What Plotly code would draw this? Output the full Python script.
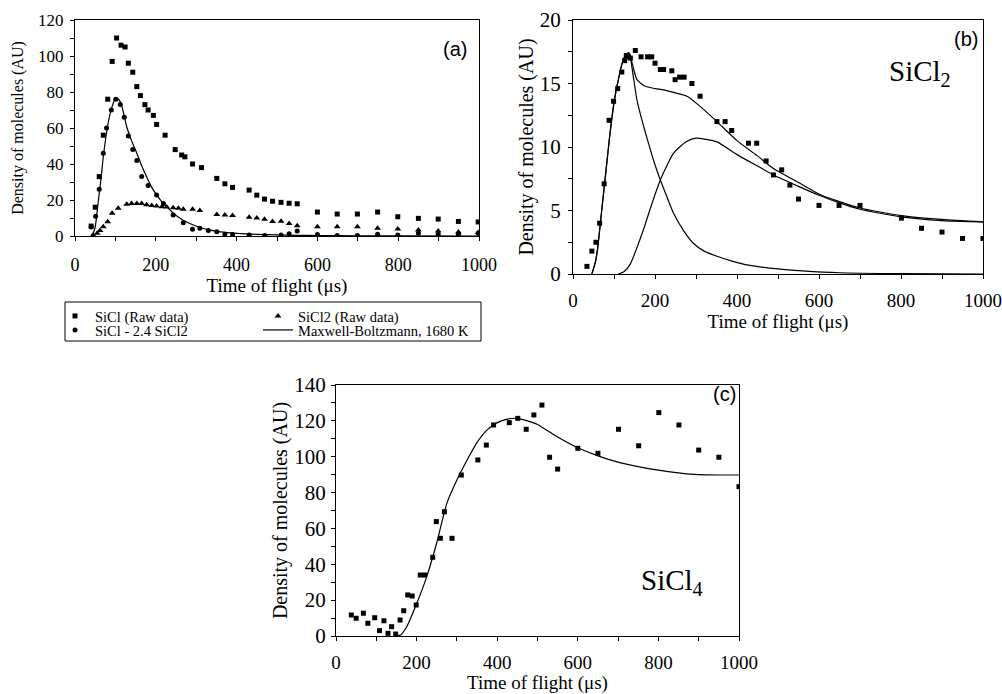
import plotly.graph_objects as go

W, H = 1002, 694
SERIF = "Liberation Serif, Times New Roman, serif"
SANS = "Liberation Sans, Arial, sans-serif"

# ---------------- (a) SiCl and SiCl2 time-of-flight spectra ----------------
a_sicl_t = [40, 50, 60, 70, 81, 92, 103, 114, 124, 132, 143, 153, 162, 173, 181, 194, 202, 223,
            248, 264, 272, 291, 313, 351, 371, 390, 431, 450, 469, 489, 510, 530, 550, 600, 649,
            699, 749, 799, 850, 899, 949, 998]
a_sicl_n = [5.5, 16, 33, 56, 76, 97, 110, 106, 105, 96, 91, 83, 78, 73, 70, 67, 62, 56,
            48, 45, 44, 40, 38, 32, 29, 27, 25.5, 22.7, 20.5, 19.3, 18.7, 18.2, 17.9, 13.3, 12.2,
            12.2, 13.3, 10.7, 9.8, 9.4, 8.1, 7.8]

a_sicl2_t = [45, 55, 62, 70, 81, 92, 107, 128, 140, 153, 165, 177, 190, 202, 215, 227, 243, 256,
             268, 291, 309, 351, 371, 390, 431, 450, 469, 489, 510, 530, 550, 600, 649, 699, 749,
             799, 850, 899, 949, 998]
a_sicl2_n = [0.5, 1.5, 3, 5.2, 7.9, 12.6, 15.4, 17.6, 18.1, 18.1, 18.1, 17.4, 17.0, 16.7, 16.3,
             16.1, 15.7, 15.4, 14.8, 14.8, 14.1, 12.0, 11.7, 11.4, 10.4, 10.0, 9.3, 8.0, 8.2, 7.0,
             5.7, 5.2, 5.2, 5.2, 4.3, 3.9, 3.3, 2.8, 2.2, 1.9]

a_diff_t = [40, 51, 60, 70, 78, 90, 101, 112, 122, 132, 143, 153, 165, 181, 202, 219, 243, 268,
            291, 309, 330, 351, 371, 390, 431, 470, 510, 530, 550, 600, 649, 699, 749, 799, 850,
            899, 949, 998]
a_diff_n = [5, 11, 26, 46, 60, 70, 76, 73, 66, 55.6, 48, 42, 33, 28, 22.8, 18, 11.7, 7.4,
            3.7, 4.3, 3, 2.4, 1, 0.8, 0.5, 0.3, 0.5, 1.3, 2.8, 0.8, 0.3, 0.3, 1, 0.5, 1.5,
            1, 1, 1.5]

a_mb_t = [40, 45, 50, 58, 65, 70, 80, 87, 95, 101, 108, 115, 128, 140, 153, 165, 177, 190, 202,
          215, 227, 240, 252, 270, 293, 315, 334, 360, 400, 450, 500, 550, 600, 700, 800, 1000]
a_mb_n = [0, 1.5, 5, 20, 33, 44, 60, 68, 74, 76.8, 76, 73, 60.7, 53, 46, 39, 33, 27, 22.8,
          19, 16.3, 13.3, 11.1, 8.5, 6.1, 4.3, 3.3, 2.3, 1.5, 0.9, 0.6, 0.4, 0.25, 0.1, 0.05, 0]

# ---------------- (b) SiCl2 with two-component fit ----------------
b_t = [34, 46, 56, 65, 76, 88, 99, 109, 119, 126, 130, 135, 140, 152, 166, 182, 192, 200, 213,
       221, 241, 249, 260, 271, 290, 310, 351, 371, 387, 428, 448, 471, 489, 509, 529, 550, 600,
       649, 700, 801, 850, 900, 950, 1000]
b_n = [0.6, 1.8, 2.5, 4.0, 7.1, 12.1, 13.6, 14.6, 15.9, 16.8, 17.2, 17.1, 17.0, 17.6, 17.1, 17.1,
       17.1, 16.6, 16.1, 16.1, 16.0, 15.3, 15.5, 15.5, 15.0, 14.0, 12.0, 12.0, 11.3, 10.3, 10.3,
       8.9, 7.8, 8.2, 7.0, 5.9, 5.4, 5.4, 5.4, 4.4, 3.6, 3.3, 2.8, 2.8]

b_fast_t = [46, 55, 60, 70, 80, 90, 100, 110, 120, 130, 137, 145, 156, 170, 184, 198, 213, 230,
            245, 270, 294, 320, 351, 390, 428, 500, 560, 650, 800, 1000]
b_fast_n = [0, 1, 2, 5, 8, 11, 13.5, 15.2, 16.6, 17.3, 17.4, 16.0, 13.7, 11.9, 10.3, 8.8, 7.4,
            6.0, 4.8, 3.4, 2.4, 1.8, 1.4, 1.0, 0.7, 0.4, 0.25, 0.1, 0.03, 0]

b_slow_t = [110, 125, 140, 155, 172, 190, 213, 230, 245, 275, 300, 325, 351, 400, 450, 489, 550,
            600, 650, 700, 800, 900, 1000]
b_slow_n = [0, 0.2, 0.8, 2.0, 3.5, 5.3, 7.4, 8.6, 9.5, 10.4, 10.7, 10.6, 10.4, 9.4, 8.5, 7.8,
            6.9, 6.2, 5.6, 5.1, 4.5, 4.2, 4.1]

b_sum_t = [46, 55, 60, 70, 80, 90, 100, 110, 120, 130, 137, 145, 156, 175, 200, 221, 245, 278,
           310, 351, 400, 450, 489, 550, 600, 650, 700, 800, 900, 1000]
b_sum_n = [0, 1, 2, 5, 8, 11, 13.5, 15.2, 16.6, 17.3, 17.4, 16.5, 15.3, 14.8, 14.6, 14.5, 14.3,
           14.0, 13.2, 12.0, 10.5, 9.3, 8.3, 7.2, 6.3, 5.7, 5.2, 4.6, 4.3, 4.1]

# ---------------- (c) SiCl4 ----------------
c_t = [38, 50, 68, 79, 96, 108, 119, 129, 138, 148, 159, 168, 178, 189, 199, 209, 220, 240, 249,
       259, 269, 288, 311, 352, 373, 391, 430, 451, 472, 491, 511, 530, 550, 600, 650, 701, 751,
       801, 851, 900, 950, 1000]
c_n = [11.7, 9.9, 12.7, 7.1, 10.2, 3.0, 8.5, 1.5, 5.2, 1.1, 8.9, 14.1, 22.9, 22.3, 17.3, 34, 34,
       43.9, 63.8, 54.5, 69.3, 54.5, 89.8, 98.2, 106.5, 117.7, 119, 121.4, 115.3, 123.3, 128.8,
       99.7, 93.1, 104.7, 101.9, 115.3, 106.1, 124.6, 117.7, 103.7, 99.7, 83.3]

c_fit_t = [146, 160, 175, 200, 225, 250, 275, 300, 325, 350, 375, 400, 425, 450, 475, 500, 525,
           550, 600, 650, 700, 750, 800, 850, 900, 950, 1000]
c_fit_n = [0, 0.5, 5, 18, 33, 52, 74, 87, 98, 108, 115, 119, 121, 121.4, 120, 118, 114.5, 111,
           105, 100.5, 97, 94.5, 92.5, 91, 90, 89.8, 89.8]

fig = go.Figure()

fit_line = dict(color="black", width=1.2, shape="spline", smoothing=0.6)

# panel (a): each legend entry gets its own legend box so the 2x2 grid lines up
fig.add_trace(go.Scatter(x=a_sicl_t, y=a_sicl_n, mode="markers", name="SiCl (Raw data)",
                         marker=dict(symbol="square", size=5, color="black"),
                         xaxis="x", yaxis="y", legend="legend"))
fig.add_trace(go.Scatter(x=a_sicl2_t, y=a_sicl2_n, mode="markers", name="SiCl2 (Raw data)",
                         marker=dict(symbol="triangle-up", size=6, color="black"),
                         xaxis="x", yaxis="y", legend="legend2"))
fig.add_trace(go.Scatter(x=a_diff_t, y=a_diff_n, mode="markers", name="SiCl - 2.4 SiCl2",
                         marker=dict(symbol="circle", size=5, color="black"),
                         xaxis="x", yaxis="y", legend="legend3"))
fig.add_trace(go.Scatter(x=a_mb_t, y=a_mb_n, mode="lines", name="Maxwell-Boltzmann, 1680 K",
                         line=fit_line, xaxis="x", yaxis="y", legend="legend4"))

# panel (b)
fig.add_trace(go.Scatter(x=b_t, y=b_n, mode="markers", showlegend=False,
                         marker=dict(symbol="square", size=5, color="black"),
                         xaxis="x2", yaxis="y2"))
for tt, nn in ((b_fast_t, b_fast_n), (b_slow_t, b_slow_n), (b_sum_t, b_sum_n)):
    fig.add_trace(go.Scatter(x=tt, y=nn, mode="lines", showlegend=False, line=fit_line,
                             xaxis="x2", yaxis="y2"))

# panel (c)
fig.add_trace(go.Scatter(x=c_t, y=c_n, mode="markers", showlegend=False,
                         marker=dict(symbol="square", size=5, color="black"),
                         xaxis="x3", yaxis="y3"))
fig.add_trace(go.Scatter(x=c_fit_t, y=c_fit_n, mode="lines", showlegend=False, line=fit_line,
                         xaxis="x3", yaxis="y3"))


def dom_x(l, r):
    return [l / W, r / W]


def dom_y(t, b):
    return [1 - b / H, 1 - t / H]


def main_axis(rng, dtick, mdtick, font_size, lbl_off, title, title_size, title_off, domain, anchor):
    return dict(
        range=rng, domain=domain, anchor=anchor, tick0=0, dtick=dtick,
        ticks="outside", ticklen=4, tickwidth=1, tickcolor="black",
        minor=dict(tick0=0, dtick=mdtick, ticks="outside", ticklen=4, tickwidth=1, tickcolor="black"),
        showline=True, linecolor="black", linewidth=1, mirror=True,
        showgrid=False, zeroline=False, fixedrange=True, automargin=False,
        tickfont=dict(family=SERIF, size=font_size, color="black"),
        ticklabelstandoff=lbl_off,
        title=dict(text=title, font=dict(family=SERIF, size=title_size, color="black"),
                   standoff=title_off),
    )


def inner_axis(rng, mdtick, overlay, anchor, side):
    # short inward ticks on a twin axis, so every tick crosses the axis line
    return dict(
        range=rng, tick0=0, dtick=mdtick, overlaying=overlay, anchor=anchor, side=side,
        ticks="inside", ticklen=4, tickwidth=1, tickcolor="black",
        showticklabels=False, showline=False, showgrid=False, zeroline=False, fixedrange=True,
    )


YT = "Density of molecules (AU)"
XT = "Time of flight (μs)"


def label(text, x, y, family, size):
    return dict(text=text, x=x / W, y=1 - y / H, xref="paper", yref="paper", showarrow=False,
                xanchor="center", yanchor="middle", font=dict(family=family, size=size, color="black"))


def legend_box(x, y):
    return dict(x=x / W, y=1 - y / H, xanchor="left", yanchor="top", orientation="h",
                font=dict(family=SERIF, size=14.5, color="black"), bgcolor="rgba(0,0,0,0)",
                itemwidth=30)


fig.update_layout(
    width=W, height=H, margin=dict(l=0, r=0, t=0, b=0),
    paper_bgcolor="white", plot_bgcolor="white",
    xaxis=main_axis([0, 1000], 200, 100, 18, 8, XT, 19, 2, dom_x(75, 479), "y"),
    yaxis=main_axis([0, 120], 20, 10, 17, 3, YT, 16, 10, dom_y(20, 236), "x"),
    xaxis2=main_axis([0, 1000], 200, 100, 19, 5, XT, 19, 2, dom_x(573, 983), "y2"),
    yaxis2=main_axis([0, 20], 5, 2.5, 21, 3, YT, 20, 0, dom_y(20, 274), "x2"),
    xaxis3=main_axis([0, 1000], 200, 100, 19, 5, XT, 19, 5, dom_x(336, 739), "y3"),
    yaxis3=main_axis([0, 140], 20, 10, 21, 1, YT, 20, 1, dom_y(385, 636), "x3"),
    xaxis4=inner_axis([0, 1000], 100, "x", "y", "bottom"),
    yaxis4=inner_axis([0, 120], 10, "y", "x", "left"),
    xaxis5=inner_axis([0, 1000], 100, "x2", "y2", "bottom"),
    yaxis5=inner_axis([0, 20], 2.5, "y2", "x2", "left"),
    xaxis6=inner_axis([0, 1000], 100, "x3", "y3", "bottom"),
    yaxis6=inner_axis([0, 140], 10, "y3", "x3", "left"),
    legend=legend_box(55, 300),
    legend2=legend_box(258, 300),
    legend3=legend_box(55, 314),
    legend4=legend_box(258, 314),
    shapes=[dict(type="rect", xref="paper", yref="paper", x0=65 / W, x1=481 / W,
                 y0=1 - 341 / H, y1=1 - 302 / H, line=dict(color="black", width=1))],
    annotations=[
        label("(a)", 455, 49, SANS, 20),
        label("(b)", 966, 39, SANS, 20),
        label("SiCl<sub>2</sub>", 920, 73, SERIF, 29),
        label("(c)", 724, 394, SANS, 20),
        label("SiCl<sub>4</sub>", 672, 582, SERIF, 29),
    ],
)
fig.write_html("out.html")
